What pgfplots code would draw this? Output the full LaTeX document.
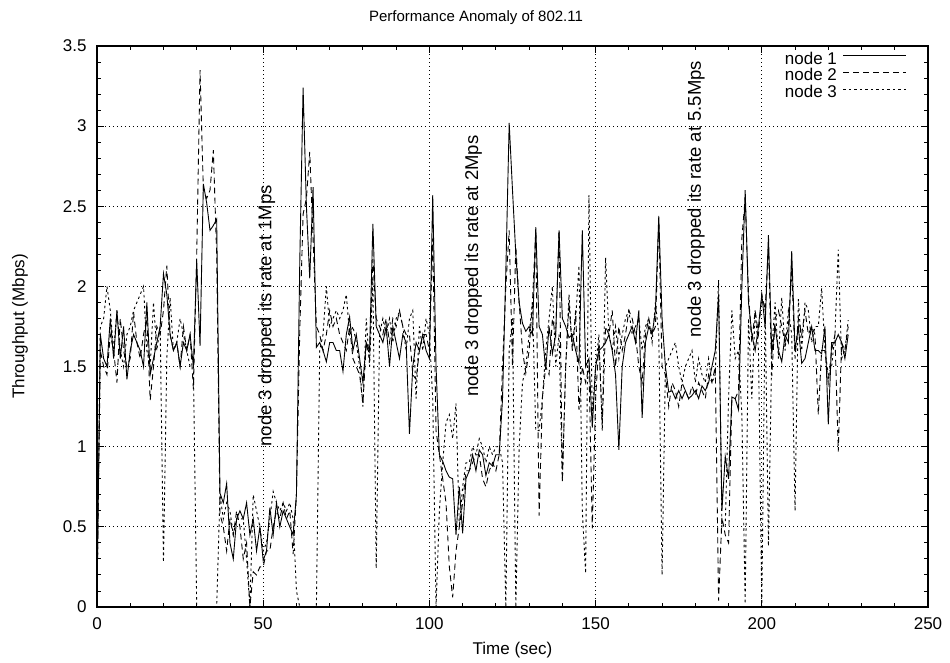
\documentclass[border=0pt]{standalone}
\usepackage{pgfplots}
\pgfplotsset{compat=1.18}
\usepackage{pgfplotstable}
\usepackage{fontspec}
\setmainfont{Liberation Sans}

\pgfplotstableread{
t v
0 0.05
1 1.70
2 1.55
3 1.50
4 1.80
5 1.55
6 1.85
7 1.55
8 1.75
9 1.42
10 1.60
11 1.70
12 1.65
13 1.60
14 1.50
15 1.90
16 1.45
17 1.55
18 1.65
19 1.75
20 2.08
21 1.95
22 1.70
23 1.60
24 1.65
25 1.50
26 1.65
27 1.60
28 1.70
29 1.50
30 2.16
31 1.63
32 2.64
33 2.52
34 2.35
35 2.38
36 2.42
37 0.71
38 0.65
39 0.77
40 0.40
41 0.30
42 0.55
43 0.60
44 0.55
45 0.65
46 0.45
47 0.55
48 0.35
49 0.50
50 0.29
51 0.35
52 0.62
53 0.45
54 0.65
55 0.50
56 0.60
57 0.55
58 0.50
59 0.45
60 0.70
61 2.15
62 3.24
63 2.50
64 2.05
65 2.62
66 1.62
67 1.65
68 1.60
69 1.53
70 1.65
71 1.65
72 1.60
73 1.60
74 1.47
75 1.70
76 1.81
77 1.60
78 1.70
79 1.55
80 1.40
81 1.65
82 1.60
83 2.39
84 1.75
85 1.70
86 1.65
87 1.75
88 1.50
89 1.75
90 1.65
91 1.55
92 1.70
93 1.65
94 1.08
95 1.50
96 1.65
97 1.60
98 1.70
99 1.60
100 1.55
101 2.57
102 1.50
103 0.95
104 0.91
105 0.85
106 0.81
107 0.80
108 0.45
109 0.75
110 0.46
111 0.80
112 0.85
113 0.95
114 0.85
115 0.98
116 0.95
117 0.82
118 0.90
119 0.88
120 0.95
121 0.95
122 1.30
123 2.10
124 3.02
125 2.60
126 2.20
127 1.90
128 1.77
129 1.72
130 1.75
131 1.70
132 2.37
133 1.75
134 1.70
135 1.48
136 1.75
137 1.58
138 1.70
139 2.35
140 1.80
141 1.75
142 1.68
143 1.70
144 1.60
145 1.52
146 2.35
147 1.50
148 1.55
149 1.12
150 1.50
151 1.60
152 1.62
153 1.65
154 1.70
155 1.60
156 1.45
157 0.98
158 1.50
159 1.65
160 1.70
161 1.75
162 1.65
163 1.85
164 1.18
165 1.65
166 1.75
167 1.70
168 1.85
169 2.44
170 1.80
171 1.50
172 1.34
173 1.35
174 1.30
175 1.35
176 1.30
177 1.35
178 1.30
179 1.32
180 1.35
181 1.30
182 1.38
183 1.35
184 1.40
185 1.50
186 1.60
187 1.95
188 0.60
189 0.94
190 0.80
191 1.31
192 1.30
193 1.23
194 2.00
195 2.60
196 1.90
197 1.70
198 1.60
199 1.75
200 1.95
201 1.75
202 2.32
203 1.58
204 1.75
205 1.60
206 1.53
207 1.70
208 1.65
209 2.22
210 1.60
211 1.75
212 1.52
213 1.55
214 1.65
215 1.75
216 1.60
217 1.60
218 1.58
219 1.75
220 1.14
221 1.65
222 1.65
223 1.70
224 1.65
225 1.55
226 1.70
}\nodeone

\pgfplotstableread{
t v
0 0.05
1 1.60
2 1.50
3 1.45
4 1.70
5 1.60
6 1.40
7 1.80
8 1.60
9 1.50
10 1.55
11 1.84
12 1.65
13 1.55
14 1.70
15 1.80
16 1.29
17 1.50
18 1.75
19 1.70
20 1.85
21 2.13
22 1.70
23 1.60
24 1.65
25 1.50
26 1.75
27 1.60
28 1.70
29 1.36
30 2.20
31 3.35
32 2.60
33 2.55
34 2.60
35 2.85
36 2.20
37 0.58
38 0.50
39 0.35
40 0.55
41 0.45
42 0.60
43 0.50
44 0.30
45 0.40
46 0.00
47 0.22
48 0.20
49 0.25
50 0.25
51 0.35
52 0.35
53 0.50
54 0.60
55 0.55
56 0.65
57 0.55
58 0.60
59 0.33
60 0.70
61 1.72
62 2.45
63 2.55
64 2.84
65 2.30
66 1.75
67 1.70
68 1.60
69 1.70
70 1.85
71 1.75
72 1.80
73 1.70
74 1.65
75 1.60
76 1.75
77 1.55
78 1.50
79 1.45
80 1.27
81 1.65
82 1.55
83 2.17
84 1.80
85 1.75
86 1.70
87 1.80
88 1.65
89 1.80
90 1.75
91 1.85
92 1.75
93 1.70
94 1.70
95 1.45
96 1.42
97 1.60
98 1.70
99 1.70
100 1.60
101 2.30
102 1.10
103 0.95
104 0.80
105 0.65
106 0.25
107 0.06
108 0.35
109 0.50
110 0.65
111 0.85
112 0.85
113 0.90
114 0.95
115 0.95
116 0.80
117 0.75
118 0.85
119 0.90
120 0.85
121 0.95
122 1.50
123 2.00
124 2.35
125 1.50
126 2.25
127 1.90
128 1.60
129 1.46
130 1.60
131 1.90
132 2.35
133 0.57
134 1.31
135 1.50
136 1.45
137 1.80
138 1.70
139 2.35
140 0.79
141 1.50
142 1.90
143 1.60
144 1.85
145 1.23
146 1.50
147 1.40
148 1.50
149 0.49
150 1.30
151 1.65
152 1.14
153 1.75
154 1.70
155 1.85
156 1.50
157 1.75
158 1.60
159 1.70
160 1.85
161 1.80
162 1.70
163 1.50
164 1.40
165 1.70
166 1.80
167 1.70
168 1.75
169 2.40
170 1.50
171 1.45
172 1.25
173 1.40
174 1.35
175 1.25
176 1.40
177 1.35
178 1.30
179 1.38
180 1.32
181 1.40
182 1.35
183 1.30
184 1.45
185 1.40
186 1.50
187 0.04
188 0.56
189 0.45
190 0.40
191 1.30
192 1.30
193 1.35
194 2.30
195 2.55
196 1.95
197 1.65
198 1.85
199 1.70
200 1.95
201 1.85
202 2.25
203 1.44
204 1.80
205 1.85
206 1.75
207 1.65
208 1.75
209 2.10
210 1.55
211 1.80
212 1.70
213 1.85
214 1.70
215 1.75
216 1.70
217 1.20
218 1.60
219 1.60
220 1.40
221 1.60
222 1.70
223 0.97
224 1.65
225 1.60
226 1.75
}\nodetwo

\pgfplotstableread{
t v
0 0.05
1 1.75
2 1.80
3 2.00
4 1.85
5 1.60
6 1.85
7 1.60
8 1.50
9 1.70
10 1.75
11 1.85
12 1.90
13 1.95
14 2.00
15 1.60
16 1.50
17 1.90
18 1.60
19 1.75
20 0.28
21 1.55
22 1.93
23 1.60
24 1.65
25 1.80
26 1.70
27 1.60
28 1.50
29 1.50
30 0.00
31 0.00
32 0.00
33 0.00
34 0.00
35 0.00
36 0.00
37 0.70
38 0.55
39 0.65
40 0.60
41 0.45
42 0.55
43 0.55
44 0.55
45 0.30
46 0.00
47 0.70
48 0.60
49 0.50
50 0.35
51 0.40
52 0.55
53 0.72
54 0.65
55 0.60
56 0.65
57 0.60
58 0.65
59 0.55
60 0.10
61 0.00
62 0.00
63 0.00
64 0.00
65 0.00
66 0.00
67 1.60
68 1.70
69 2.00
70 1.75
71 1.80
72 1.85
73 1.80
74 1.85
75 1.95
76 1.70
77 1.75
78 1.65
79 1.50
80 1.25
81 1.80
82 1.50
83 2.05
84 0.24
85 1.70
86 1.80
87 1.70
88 1.80
89 1.65
90 1.80
91 1.84
92 1.75
93 1.60
94 1.80
95 1.85
96 1.30
97 1.75
98 1.60
99 1.80
100 1.70
101 1.30
102 0.00
103 0.60
104 0.90
105 1.15
106 1.20
107 1.05
108 1.27
109 0.50
110 0.75
111 0.90
112 0.90
113 1.00
114 0.95
115 1.05
116 1.00
117 0.90
118 1.00
119 0.95
120 1.00
121 1.00
122 0.90
123 0.00
124 1.60
125 1.80
126 0.00
127 1.00
128 1.40
129 1.50
130 1.70
131 1.90
132 1.10
133 1.10
134 1.30
135 1.60
136 1.80
137 2.00
138 1.50
139 1.70
140 0.78
141 1.50
142 1.95
143 1.60
144 1.80
145 2.13
146 0.60
147 0.21
148 2.57
149 1.20
150 1.50
151 1.70
152 1.10
153 2.18
154 1.70
155 1.60
156 1.75
157 1.55
158 1.70
159 1.80
160 1.85
161 1.70
162 1.75
163 1.80
164 1.60
165 1.75
166 1.80
167 1.65
168 1.90
169 1.70
170 0.20
171 1.50
172 1.55
173 1.60
174 1.65
175 1.50
176 1.40
177 1.50
178 1.55
179 1.60
180 1.40
181 1.55
182 1.45
183 1.40
184 1.55
185 1.40
186 1.45
187 2.04
188 0.50
189 0.50
190 1.30
191 1.85
192 1.55
193 1.60
194 1.20
195 0.02
196 1.80
197 1.30
198 1.85
199 1.60
200 0.00
201 1.90
202 0.38
203 1.60
204 1.90
205 1.55
206 1.93
207 1.60
208 1.85
209 1.70
210 0.60
211 1.92
212 1.60
213 1.90
214 1.85
215 1.65
216 1.75
217 1.75
218 1.99
219 1.60
220 1.45
221 1.50
222 1.70
223 2.23
224 1.55
225 1.60
226 1.79
}\nodethree

\begin{document}
\begin{tikzpicture}[font=\fontsize{17}{20}\selectfont]
\path[use as bounding box] (0pt,0pt) rectangle (950pt,662pt);
\node[font=\fontsize{15}{18}\selectfont] at (476pt,644pt) {Performance Anomaly of 802.11};
\begin{axis}[
  at={(97pt,55pt)}, anchor=south west,
  scale only axis, width=831pt, height=561pt,
  xmin=0, xmax=250, ymin=0, ymax=3.5,
  xtick={0,50,...,250}, ytick={0,0.5,...,3.5},
  minor x tick num=4, minor y tick num=4,
  tick align=inside,
  major tick length=7pt, minor tick length=4pt,
  every tick/.style={black, line width=0.9pt},
  axis line style={black, line width=1.3pt},
  grid=major,
  major grid style={black, line width=0.8pt, dash pattern=on 0.8pt off 3.2pt},
  /pgf/number format/assume math mode=true,
  yticklabel style={xshift=-7pt},
  xticklabel style={yshift=-7pt},
  xlabel={Time (sec)},
  ylabel={Throughput (Mbps)},
  xlabel style={at={(axis description cs:0.5,-0.0766)}, anchor=center},
  ylabel style={at={(axis description cs:-0.0927,0.5)}, anchor=center, rotate=0},
  legend plot pos=right,
  legend cell align=right,
  legend image code/.code={\draw[#1] (0pt,5pt) -- (63pt,5pt);},
  legend style={draw=none, fill=none, at={(rel axis cs:1,1)}, anchor=north east,
    xshift=-21pt, yshift=-6pt, inner sep=0pt, row sep=0pt, column sep=0pt,
    nodes={inner sep=0pt, text height=12pt, text depth=4.7pt}},
]
\addplot[black, line width=0.9pt] table[x=t, y=v] {\nodeone};
\addlegendentry{node 1\hspace*{6pt}}
\addplot[black, line width=0.9pt, dash pattern=on 6pt off 4pt] table[x=t, y=v] {\nodetwo};
\addlegendentry{node 2\hspace*{6pt}}
\addplot[black, line width=0.9pt, dash pattern=on 2.5pt off 3pt] table[x=t, y=v] {\nodethree};
\addlegendentry{node 3\hspace*{6pt}}
\node[rotate=90, anchor=west, inner sep=0pt, font=\fontsize{18.5}{21}\selectfont] at (axis cs:51,1.0) {node 3 dropped its rate at 1Mps};
\node[rotate=90, anchor=west, inner sep=0pt, font=\fontsize{18.5}{21}\selectfont] at (axis cs:113.2,1.31) {node 3 dropped its rate at 2Mps};
\node[rotate=90, anchor=west, inner sep=0pt, font=\fontsize{18.5}{21}\selectfont] at (axis cs:180.2,1.68) {node 3 dropped its rate at 5.5Mps};
\end{axis}
\end{tikzpicture}
\end{document}
